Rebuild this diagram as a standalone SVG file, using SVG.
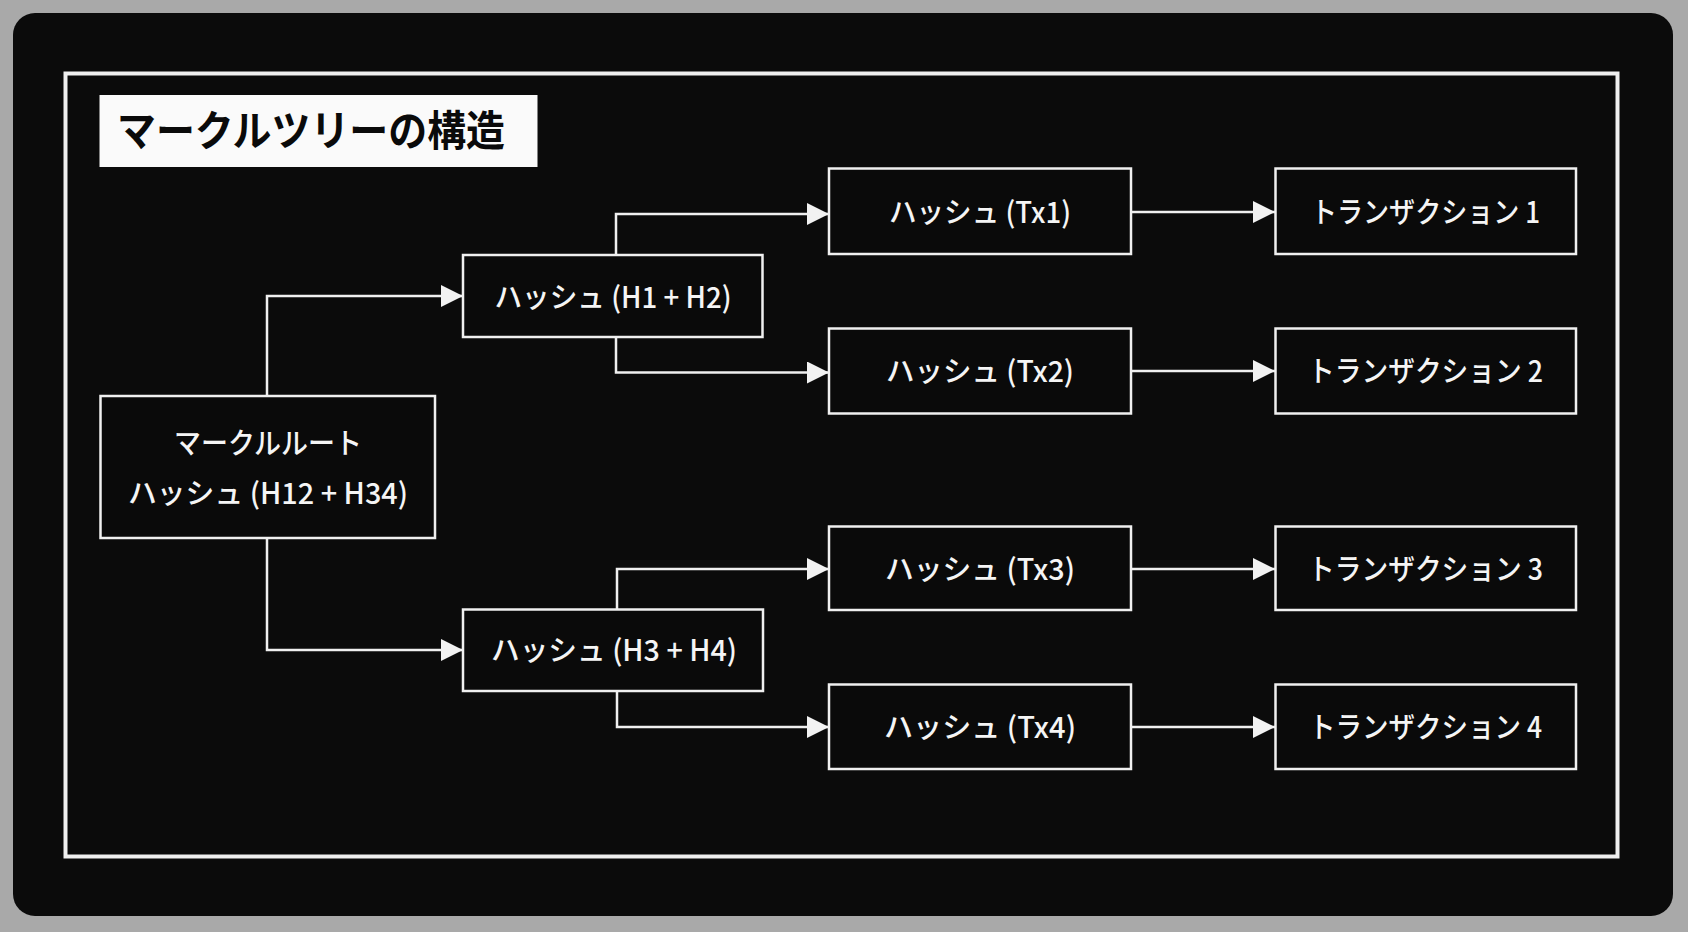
<svg xmlns="http://www.w3.org/2000/svg" width="1688" height="932" viewBox="0 0 1688 932">
  <defs>
    <marker id="arr" viewBox="0 0 22 22" refX="22" refY="11" markerWidth="22" markerHeight="22" markerUnits="userSpaceOnUse" orient="auto">
      <path d="M0,0 L22,11 L0,22 Z" fill="#f2f2f2"/>
    </marker>
    <style>
      .box { fill: #0a0a0a; stroke: #f0f0f0; stroke-width: 2.5; }
      .lbl { font-family: "Noto Sans CJK JP", "Noto Sans", sans-serif; font-size: 29px; font-weight: 500; fill: #f5f5f5; text-anchor: middle; dominant-baseline: central; }
      .conn { fill: none; stroke: #f0f0f0; stroke-width: 2.5; marker-end: url(#arr); }
    </style>
  </defs>
  <rect x="0" y="0" width="1688" height="932" fill="#a9a9a9"/>
  <rect x="13" y="13" width="1660" height="903" rx="22" ry="22" fill="#0b0b0b"/>
  <rect x="65.5" y="73.5" width="1552" height="783" fill="none" stroke="#f0f0f0" stroke-width="4"/>

  <g id="title">
    <rect x="99.5" y="95" width="438" height="72" fill="#fafafa"/>
    <text x="117" y="127" font-family="Noto Sans CJK JP, sans-serif" font-size="42" font-weight="700" fill="#0a0a0a" dominant-baseline="central" textLength="388" lengthAdjust="spacingAndGlyphs">マークルツリーの構造</text>
  </g>

  <g id="connectors">
    <path class="conn" d="M267,396 V296 H463"/>
    <path class="conn" d="M267,538 V650 H463"/>
    <path class="conn" d="M616,255 V214 H829"/>
    <path class="conn" d="M616,337 V372.5 H829"/>
    <path class="conn" d="M617,609 V569 H829"/>
    <path class="conn" d="M617,691 V727 H829"/>
    <path class="conn" d="M1131,212 H1275"/>
    <path class="conn" d="M1131,371 H1275"/>
    <path class="conn" d="M1131,569 H1275"/>
    <path class="conn" d="M1131,727 H1275"/>
  </g>

  <g id="root">
    <rect class="box" x="100.5" y="396" width="334.5" height="142"/>
    <text class="lbl" x="268" y="441" textLength="188" lengthAdjust="spacingAndGlyphs">マークルルート</text>
    <text class="lbl" x="268" y="491" textLength="280" lengthAdjust="spacingAndGlyphs">ハッシュ (H12 + H34)</text>
  </g>

  <g id="h12">
    <rect class="box" x="463" y="255" width="299.5" height="82"/>
    <text class="lbl" x="613" y="295" textLength="237" lengthAdjust="spacingAndGlyphs">ハッシュ (H1 + H2)</text>
  </g>
  <g id="h34">
    <rect class="box" x="463" y="609.5" width="300" height="81.5"/>
    <text class="lbl" x="614" y="648" textLength="246" lengthAdjust="spacingAndGlyphs">ハッシュ (H3 + H4)</text>
  </g>

  <g id="tx1">
    <rect class="box" x="829" y="168.5" width="302" height="85.5"/>
    <text class="lbl" x="980" y="210" textLength="182" lengthAdjust="spacingAndGlyphs">ハッシュ (Tx1)</text>
  </g>
  <g id="tx2">
    <rect class="box" x="829" y="328.5" width="302" height="85"/>
    <text class="lbl" x="980" y="369" textLength="188" lengthAdjust="spacingAndGlyphs">ハッシュ (Tx2)</text>
  </g>
  <g id="tx3">
    <rect class="box" x="829" y="526.5" width="302" height="83.5"/>
    <text class="lbl" x="980" y="567" textLength="190" lengthAdjust="spacingAndGlyphs">ハッシュ (Tx3)</text>
  </g>
  <g id="tx4">
    <rect class="box" x="829" y="684.5" width="302" height="84.5"/>
    <text class="lbl" x="980" y="725" textLength="192" lengthAdjust="spacingAndGlyphs">ハッシュ (Tx4)</text>
  </g>

  <g id="trans1">
    <rect class="box" x="1275.5" y="168.5" width="300.5" height="85.5"/>
    <text class="lbl" x="1425.5" y="210" textLength="229" lengthAdjust="spacingAndGlyphs">トランザクション 1</text>
  </g>
  <g id="trans2">
    <rect class="box" x="1275.5" y="328.5" width="300.5" height="85"/>
    <text class="lbl" x="1425.5" y="369" textLength="235" lengthAdjust="spacingAndGlyphs">トランザクション 2</text>
  </g>
  <g id="trans3">
    <rect class="box" x="1275.5" y="526.5" width="300.5" height="83.5"/>
    <text class="lbl" x="1425.5" y="567" textLength="235" lengthAdjust="spacingAndGlyphs">トランザクション 3</text>
  </g>
  <g id="trans4">
    <rect class="box" x="1275.5" y="684.5" width="300.5" height="84.5"/>
    <text class="lbl" x="1425.5" y="725" textLength="233" lengthAdjust="spacingAndGlyphs">トランザクション 4</text>
  </g>
</svg>
